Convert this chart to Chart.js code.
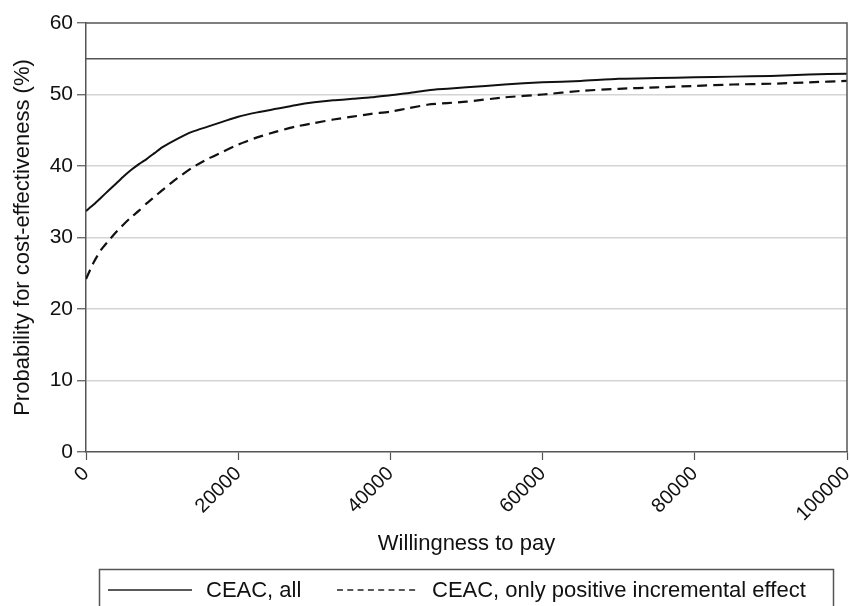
<!DOCTYPE html>
<html>
<head>
<meta charset="utf-8">
<script src="https://cdn.jsdelivr.net/npm/chart.js@4.4.1/dist/chart.umd.min.js"></script>
<style>
  html, body { margin: 0; padding: 0; background: #ffffff; }
  #wrap { width: 850px; height: 606px; position: relative; }
</style>
</head>
<body>
<div id="wrap"><canvas id="ceac" width="850" height="606"></canvas></div>
<script>
// Willingness-to-pay grid and acceptability curves (%)
const wtpAll = [0, 1000, 2000, 3000, 4000, 5000, 6000, 7000, 8000, 9000, 10000, 12000, 14000, 16000, 18000, 20000,
  22500, 25000, 27500, 30000, 32500, 35000, 37500, 40000, 42500, 45000, 47500, 50000, 55000, 60000, 65000,
  70000, 75000, 80000, 85000, 90000, 95000, 100000];
const ceacAll = [33.7, 34.6, 35.6, 36.6, 37.6, 38.6, 39.5, 40.3, 41.0, 41.8, 42.6, 43.8, 44.8, 45.5, 46.2, 46.9,
  47.5, 48.0, 48.5, 48.9, 49.2, 49.4, 49.6, 49.9, 50.2, 50.6, 50.8, 51.0, 51.4, 51.7, 51.9,
  52.2, 52.3, 52.4, 52.5, 52.6, 52.8, 52.9];
const ceacPositive = [24.2, 26.5, 28.3, 29.6, 30.8, 31.9, 32.9, 33.8, 34.8, 35.7, 36.6, 38.3, 39.8, 41.0, 42.0, 43.0,
  44.0, 44.8, 45.5, 46.0, 46.5, 46.9, 47.3, 47.6, 48.1, 48.6, 48.8, 49.0, 49.6, 50.0, 50.5,
  50.8, 51.0, 51.2, 51.4, 51.5, 51.7, 51.9];
const referenceLevel = 55;
const xTicks = [0, 20000, 40000, 60000, 80000, 100000];
const yTicks = [0, 10, 20, 30, 40, 50, 60];
const seriesLabels = ['CEAC, all', 'CEAC, only positive incremental effect'];

const FONT = 'Liberation Sans, Arial, Helvetica, sans-serif';
const INK = '#111111';
const AXIS = '#555555';

const toPoints = (xs, ys) => xs.map((x, i) => ({ x: x, y: ys[i] }));

// Frame around the plotting region (top and right edges)
const framePlugin = {
  id: 'frame',
  afterDatasetsDraw(chart) {
    const a = chart.chartArea, ctx = chart.ctx;
    ctx.save();
    ctx.strokeStyle = AXIS;
    ctx.lineWidth = 1.5;
    ctx.beginPath();
    ctx.moveTo(a.left, a.top);
    ctx.lineTo(a.right, a.top);
    ctx.lineTo(a.right, a.bottom);
    ctx.stroke();
    ctx.restore();
  }
};

// Boxed legend below the axis title
const boxLegendPlugin = {
  id: 'boxLegend',
  afterDraw(chart) {
    const ctx = chart.ctx;
    const box = { x: 99.5, y: 569.5, w: 734, h: 60 };
    const rowY = 590;
    const items = [
      { ds: chart.data.datasets[0], x0: 108, x1: 192, tx: 206, dash: [] },
      { ds: chart.data.datasets[1], x0: 337, x1: 417, tx: 432, dash: [6, 4.3] }
    ];
    ctx.save();
    ctx.strokeStyle = AXIS;
    ctx.lineWidth = 1.5;
    ctx.strokeRect(box.x, box.y, box.w, box.h);
    ctx.font = '22px ' + FONT;
    ctx.textBaseline = 'middle';
    ctx.fillStyle = INK;
    items.forEach(it => {
      ctx.beginPath();
      ctx.strokeStyle = '#222222';
      ctx.lineWidth = 1.5;
      ctx.setLineDash(it.dash);
      ctx.moveTo(it.x0, rowY);
      ctx.lineTo(it.x1, rowY);
      ctx.stroke();
      ctx.setLineDash([]);
      ctx.fillText(it.ds.label, it.tx, rowY + 1);
    });
    ctx.restore();
  }
};

new Chart(document.getElementById('ceac'), {
  type: 'scatter',
  data: {
    datasets: [
      {
        label: seriesLabels[0],
        data: toPoints(wtpAll, ceacAll),
        showLine: true,
        borderColor: INK,
        borderWidth: 2,
        pointRadius: 0,
        tension: 0.2
      },
      {
        label: seriesLabels[1],
        data: toPoints(wtpAll, ceacPositive),
        showLine: true,
        borderColor: INK,
        borderWidth: 2.2,
        borderDash: [10, 6],
        pointRadius: 0,
        tension: 0.2
      },
      {
        label: 'reference',
        data: [{ x: xTicks[0], y: referenceLevel }, { x: xTicks[xTicks.length - 1], y: referenceLevel }],
        showLine: true,
        borderColor: AXIS,
        borderWidth: 1.5,
        pointRadius: 0
      }
    ]
  },
  options: {
    responsive: false,
    animation: false,
    devicePixelRatio: 1,
    layout: { padding: { left: 0, right: 3, top: 23, bottom: 46 } },
    plugins: {
      legend: { display: false },
      tooltip: { enabled: false }
    },
    scales: {
      x: {
        type: 'linear',
        min: 0,
        max: 100000,
        afterBuildTicks(scale) { scale.ticks = xTicks.map(v => ({ value: v })); },
        afterFit(scale) { scale.height = 108; scale.paddingLeft = 0; scale.paddingRight = 0; },
        border: { display: true, color: AXIS, width: 1.5 },
        grid: { drawOnChartArea: false, drawTicks: true, tickLength: 8, tickColor: AXIS, tickWidth: 1.2 },
        ticks: {
          minRotation: 45,
          maxRotation: 45,
          autoSkip: false,
          padding: 2,
          color: INK,
          font: { family: FONT, size: 20 },
          callback: v => String(v)
        },
        title: {
          display: true,
          text: 'Willingness to pay',
          color: INK,
          font: { family: FONT, size: 22 },
          padding: { top: 4, bottom: 3 }
        }
      },
      y: {
        type: 'linear',
        min: 0,
        max: 60,
        afterBuildTicks(scale) { scale.ticks = yTicks.map(v => ({ value: v })); },
        afterFit(scale) { scale.width = 86; },
        border: { display: true, color: AXIS, width: 1.5 },
        grid: {
          drawTicks: true,
          tickLength: 9,
          tickColor: AXIS,
          tickWidth: 1.2,
          color: ctx => (ctx.tick && (ctx.tick.value === 0 || ctx.tick.value === 60)) ? 'rgba(0,0,0,0)' : '#d4d4d4',
          lineWidth: 1.5
        },
        ticks: {
          padding: 4,
          color: INK,
          font: { family: FONT, size: 21 }
        },
        title: {
          display: true,
          text: 'Probability for cost-effectiveness (%)',
          color: INK,
          font: { family: FONT, size: 22 },
          padding: { top: 10, bottom: 4 }
        }
      }
    }
  },
  plugins: [framePlugin, boxLegendPlugin]
});
</script>
</body>
</html>
